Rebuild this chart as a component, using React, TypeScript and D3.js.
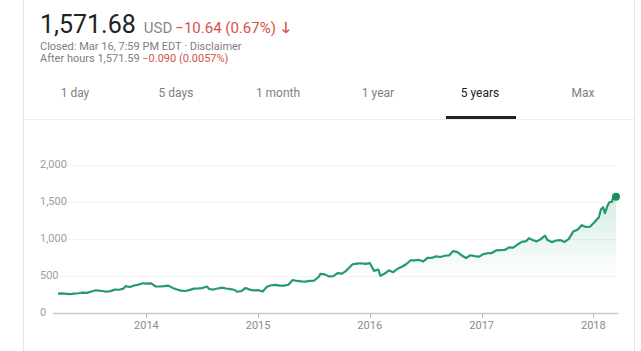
import { useRef, useEffect } from 'react';
import * as d3 from 'd3';

const dates = [
  '2013-03-18', '2013-04-01', '2013-04-15', '2013-04-26', '2013-05-10', '2013-05-24', '2013-06-07', '2013-06-21',
  '2013-07-05', '2013-07-19', '2013-07-29', '2013-08-09', '2013-08-23', '2013-09-06', '2013-09-20', '2013-10-04',
  '2013-10-18', '2013-10-25', '2013-11-08', '2013-11-22', '2013-12-06', '2013-12-20',
  '2014-01-03', '2014-01-17', '2014-01-31', '2014-02-14', '2014-02-28', '2014-03-14', '2014-03-28', '2014-04-11',
  '2014-04-25', '2014-05-09', '2014-05-23', '2014-06-06', '2014-06-20', '2014-07-03', '2014-07-18', '2014-07-25',
  '2014-08-08', '2014-08-22', '2014-09-05', '2014-09-19', '2014-10-03', '2014-10-17', '2014-10-24', '2014-11-07',
  '2014-11-21', '2014-12-05', '2014-12-19',
  '2015-01-02', '2015-01-16', '2015-01-30', '2015-02-13', '2015-02-27', '2015-03-13', '2015-03-27', '2015-04-10',
  '2015-04-24', '2015-05-08', '2015-05-22', '2015-06-05', '2015-06-19', '2015-07-03', '2015-07-17', '2015-07-24',
  '2015-08-07', '2015-08-21', '2015-09-04', '2015-09-18', '2015-10-02', '2015-10-16', '2015-10-23', '2015-11-06',
  '2015-11-20', '2015-12-04', '2015-12-18',
  '2016-01-01', '2016-01-15', '2016-01-29', '2016-02-05', '2016-02-19', '2016-03-04', '2016-03-18', '2016-04-01',
  '2016-04-15', '2016-04-29', '2016-05-13', '2016-05-27', '2016-06-10', '2016-06-24', '2016-07-08', '2016-07-22',
  '2016-08-05', '2016-08-19', '2016-09-02', '2016-09-16', '2016-09-30', '2016-10-14', '2016-10-28', '2016-11-11',
  '2016-11-25', '2016-12-09', '2016-12-23',
  '2017-01-06', '2017-01-20', '2017-02-03', '2017-02-17', '2017-03-03', '2017-03-17', '2017-03-31', '2017-04-14',
  '2017-04-28', '2017-05-12', '2017-05-26', '2017-06-05', '2017-06-16', '2017-06-30', '2017-07-14', '2017-07-27',
  '2017-08-04', '2017-08-18', '2017-09-01', '2017-09-15', '2017-09-29', '2017-10-13', '2017-10-27', '2017-11-10',
  '2017-11-24', '2017-12-08', '2017-12-22',
  '2018-01-05', '2018-01-19', '2018-01-26', '2018-02-02', '2018-02-08', '2018-02-16', '2018-02-23', '2018-03-02',
  '2018-03-09', '2018-03-13', '2018-03-16',
];

const closes = [
  262, 264, 258, 254, 262, 267, 276, 272,
  290, 307, 302, 297, 287, 296, 316, 314,
  330, 363, 351, 372, 384, 402,
  397, 399, 358, 358, 362, 370, 338, 318,
  303, 297, 312, 329, 332, 337, 358, 324,
  317, 331, 342, 331, 322, 311, 287, 296,
  338, 316, 305,
  308, 290, 354, 375, 380, 370, 370, 382,
  446, 433, 427, 425, 434, 437, 483, 529,
  522, 494, 499, 540, 532, 570, 600, 659,
  668, 672, 664,
  675, 570, 587, 502, 534, 575, 552, 598,
  625, 659, 710, 712, 717, 698, 745, 744,
  766, 757, 774, 778, 837, 822, 776, 744,
  780, 768, 760,
  795, 808, 810, 845, 849, 852, 886, 884,
  925, 961, 971, 1011, 987, 968, 1001, 1046,
  987, 958, 980, 986, 961, 1002, 1100, 1125,
  1186, 1162, 1168,
  1229, 1294, 1402, 1429, 1350, 1448, 1500, 1500,
  1578, 1598, 1571.68,
];

const yTicks = [0, 500, 1000, 1500, 2000];
const xTickYears = [2014, 2015, 2016, 2017, 2018];
const tabs = ['1 day', '5 days', '1 month', '1 year', '5 years', 'Max'];
const tabCenters = [75, 176, 278, 378, 480, 583];
const selectedTab = '5 years';

const FONT = 'Roboto, Arial, sans-serif';
const LINE = '#259a6c';

export default function App() {
  const svgRef = useRef<SVGSVGElement>(null);
  const width = 641;
  const height = 351;

  useEffect(() => {
    if (!svgRef.current) return;
    const svg = d3.select(svgRef.current);
    svg.selectAll('*').remove();

    const parse = d3.timeParse('%Y-%m-%d');
    const data = dates.map((d, i) => ({ date: parse(d)!, value: closes[i] }));

    const x = d3.scaleTime()
      .domain([data[0].date, data[data.length - 1].date])
      .range([58, 616]);
    const y = d3.scaleLinear().domain([0, 2000]).range([313, 165]);

    // panel borders
    svg.append('line').attr('x1', 23.5).attr('x2', 23.5).attr('y1', 0).attr('y2', height)
      .attr('stroke', '#e6e6e6');
    svg.append('line').attr('x1', 634.5).attr('x2', 634.5).attr('y1', 0).attr('y2', height)
      .attr('stroke', '#e6e6e6');

    // header
    const head = svg.append('text').attr('x', 40).attr('y', 33).attr('font-family', FONT);
    head.append('tspan').attr('font-size', '25px').attr('fill', '#222').text('1,571.68');
    head.append('tspan').attr('dx', 8).attr('font-size', '15px').attr('fill', '#888').text('USD');
    head.append('tspan').attr('dx', 3).attr('font-size', '15px').attr('fill', '#d5534a').text('−10.64 (0.67%)');
    head.append('tspan').attr('dx', 6).attr('font-size', '15px').attr('font-weight', 'bold').attr('fill', '#d5534a').text('🡓');

    svg.append('text').attr('x', 40).attr('y', 50).attr('font-family', FONT).attr('font-size', '11px')
      .attr('fill', '#808080').text('Closed: Mar 16, 7:59 PM EDT · Disclaimer');
    const ah = svg.append('text').attr('x', 40).attr('y', 62).attr('font-family', FONT).attr('font-size', '11px');
    ah.append('tspan').attr('fill', '#808080').text('After hours 1,571.59 ');
    ah.append('tspan').attr('fill', '#d5534a').text('−0.090 (0.0057%)');

    // tabs
    svg.selectAll('text.tab')
      .data(tabs)
      .join('text')
      .attr('class', 'tab')
      .attr('x', (_d, i) => tabCenters[i])
      .attr('y', 94)
      .attr('text-anchor', 'middle')
      .attr('dominant-baseline', 'middle')
      .attr('font-family', FONT)
      .attr('font-size', '12px')
      .attr('fill', (d) => d === selectedTab ? '#222' : '#808080')
      .text((d) => d);
    svg.append('line').attr('x1', 23).attr('x2', 635).attr('y1', 119.5).attr('y2', 119.5)
      .attr('stroke', '#ededed');
    const si = tabs.indexOf(selectedTab);
    svg.append('rect').attr('x', tabCenters[si] - 34).attr('y', 116).attr('width', 70).attr('height', 3)
      .attr('fill', '#222');

    // gridlines
    svg.selectAll('line.grid')
      .data(yTicks.filter((t) => t > 0))
      .join('line')
      .attr('class', 'grid')
      .attr('x1', 53).attr('x2', 616)
      .attr('y1', (d) => y(d) + 0.5).attr('y2', (d) => y(d) + 0.5)
      .attr('stroke', '#f4f4f4');

    // y labels
    svg.selectAll('text.ylab')
      .data(yTicks)
      .join('text')
      .attr('class', 'ylab')
      .attr('x', 40)
      .attr('y', (d) => y(d))
      .attr('dominant-baseline', 'middle')
      .attr('font-family', FONT)
      .attr('font-size', '11px')
      .attr('fill', '#9e9e9e')
      .text((d) => d3.format(',')(d));

    // area gradient
    const defs = svg.append('defs');
    const grad = defs.append('linearGradient').attr('id', 'fillGrad')
      .attr('gradientUnits', 'userSpaceOnUse')
      .attr('x1', 0).attr('x2', 0).attr('y1', y(1600)).attr('y2', y(450));
    grad.append('stop').attr('offset', '0%').attr('stop-color', LINE).attr('stop-opacity', 0.2);
    grad.append('stop').attr('offset', '100%').attr('stop-color', LINE).attr('stop-opacity', 0);

    const area = d3.area<{ date: Date; value: number }>()
      .x((d) => x(d.date))
      .y0(y(0))
      .y1((d) => y(d.value));
    svg.append('path').datum(data).attr('d', area).attr('fill', 'url(#fillGrad)');

    // baseline axis
    svg.append('line').attr('x1', 53).attr('x2', 618).attr('y1', y(0) + 0.5).attr('y2', y(0) + 0.5)
      .attr('stroke', '#cccccc').attr('stroke-width', 1.5);

    const xt = xTickYears.map((yr) => new Date(yr, 0, 1));
    svg.selectAll('line.xtick')
      .data(xt)
      .join('line')
      .attr('class', 'xtick')
      .attr('x1', (d) => Math.round(x(d)) + 0.5).attr('x2', (d) => Math.round(x(d)) + 0.5)
      .attr('y1', y(0)).attr('y2', y(0) + 5)
      .attr('stroke', '#bbbbbb');
    svg.selectAll('text.xlab')
      .data(xt)
      .join('text')
      .attr('class', 'xlab')
      .attr('x', (d) => x(d))
      .attr('y', 326)
      .attr('text-anchor', 'middle')
      .attr('dominant-baseline', 'middle')
      .attr('font-family', FONT)
      .attr('font-size', '11px')
      .attr('fill', '#8a8a8a')
      .text((d) => d3.timeFormat('%Y')(d));

    // line
    const line = d3.line<{ date: Date; value: number }>()
      .x((d) => x(d.date))
      .y((d) => y(d.value));
    svg.append('path').datum(data).attr('d', line)
      .attr('fill', 'none').attr('stroke', LINE).attr('stroke-width', 2.2)
      .attr('stroke-linejoin', 'round');

    const last = data[data.length - 1];
    svg.append('circle').attr('cx', x(last.date)).attr('cy', y(last.value)).attr('r', 4)
      .attr('fill', '#1b8f5e');
  }, []);

  return (
    <svg
      ref={svgRef}
      width={width}
      height={height}
      style={{ position: 'absolute', left: 0, top: 0, background: '#fff' }}
    />
  );
}
